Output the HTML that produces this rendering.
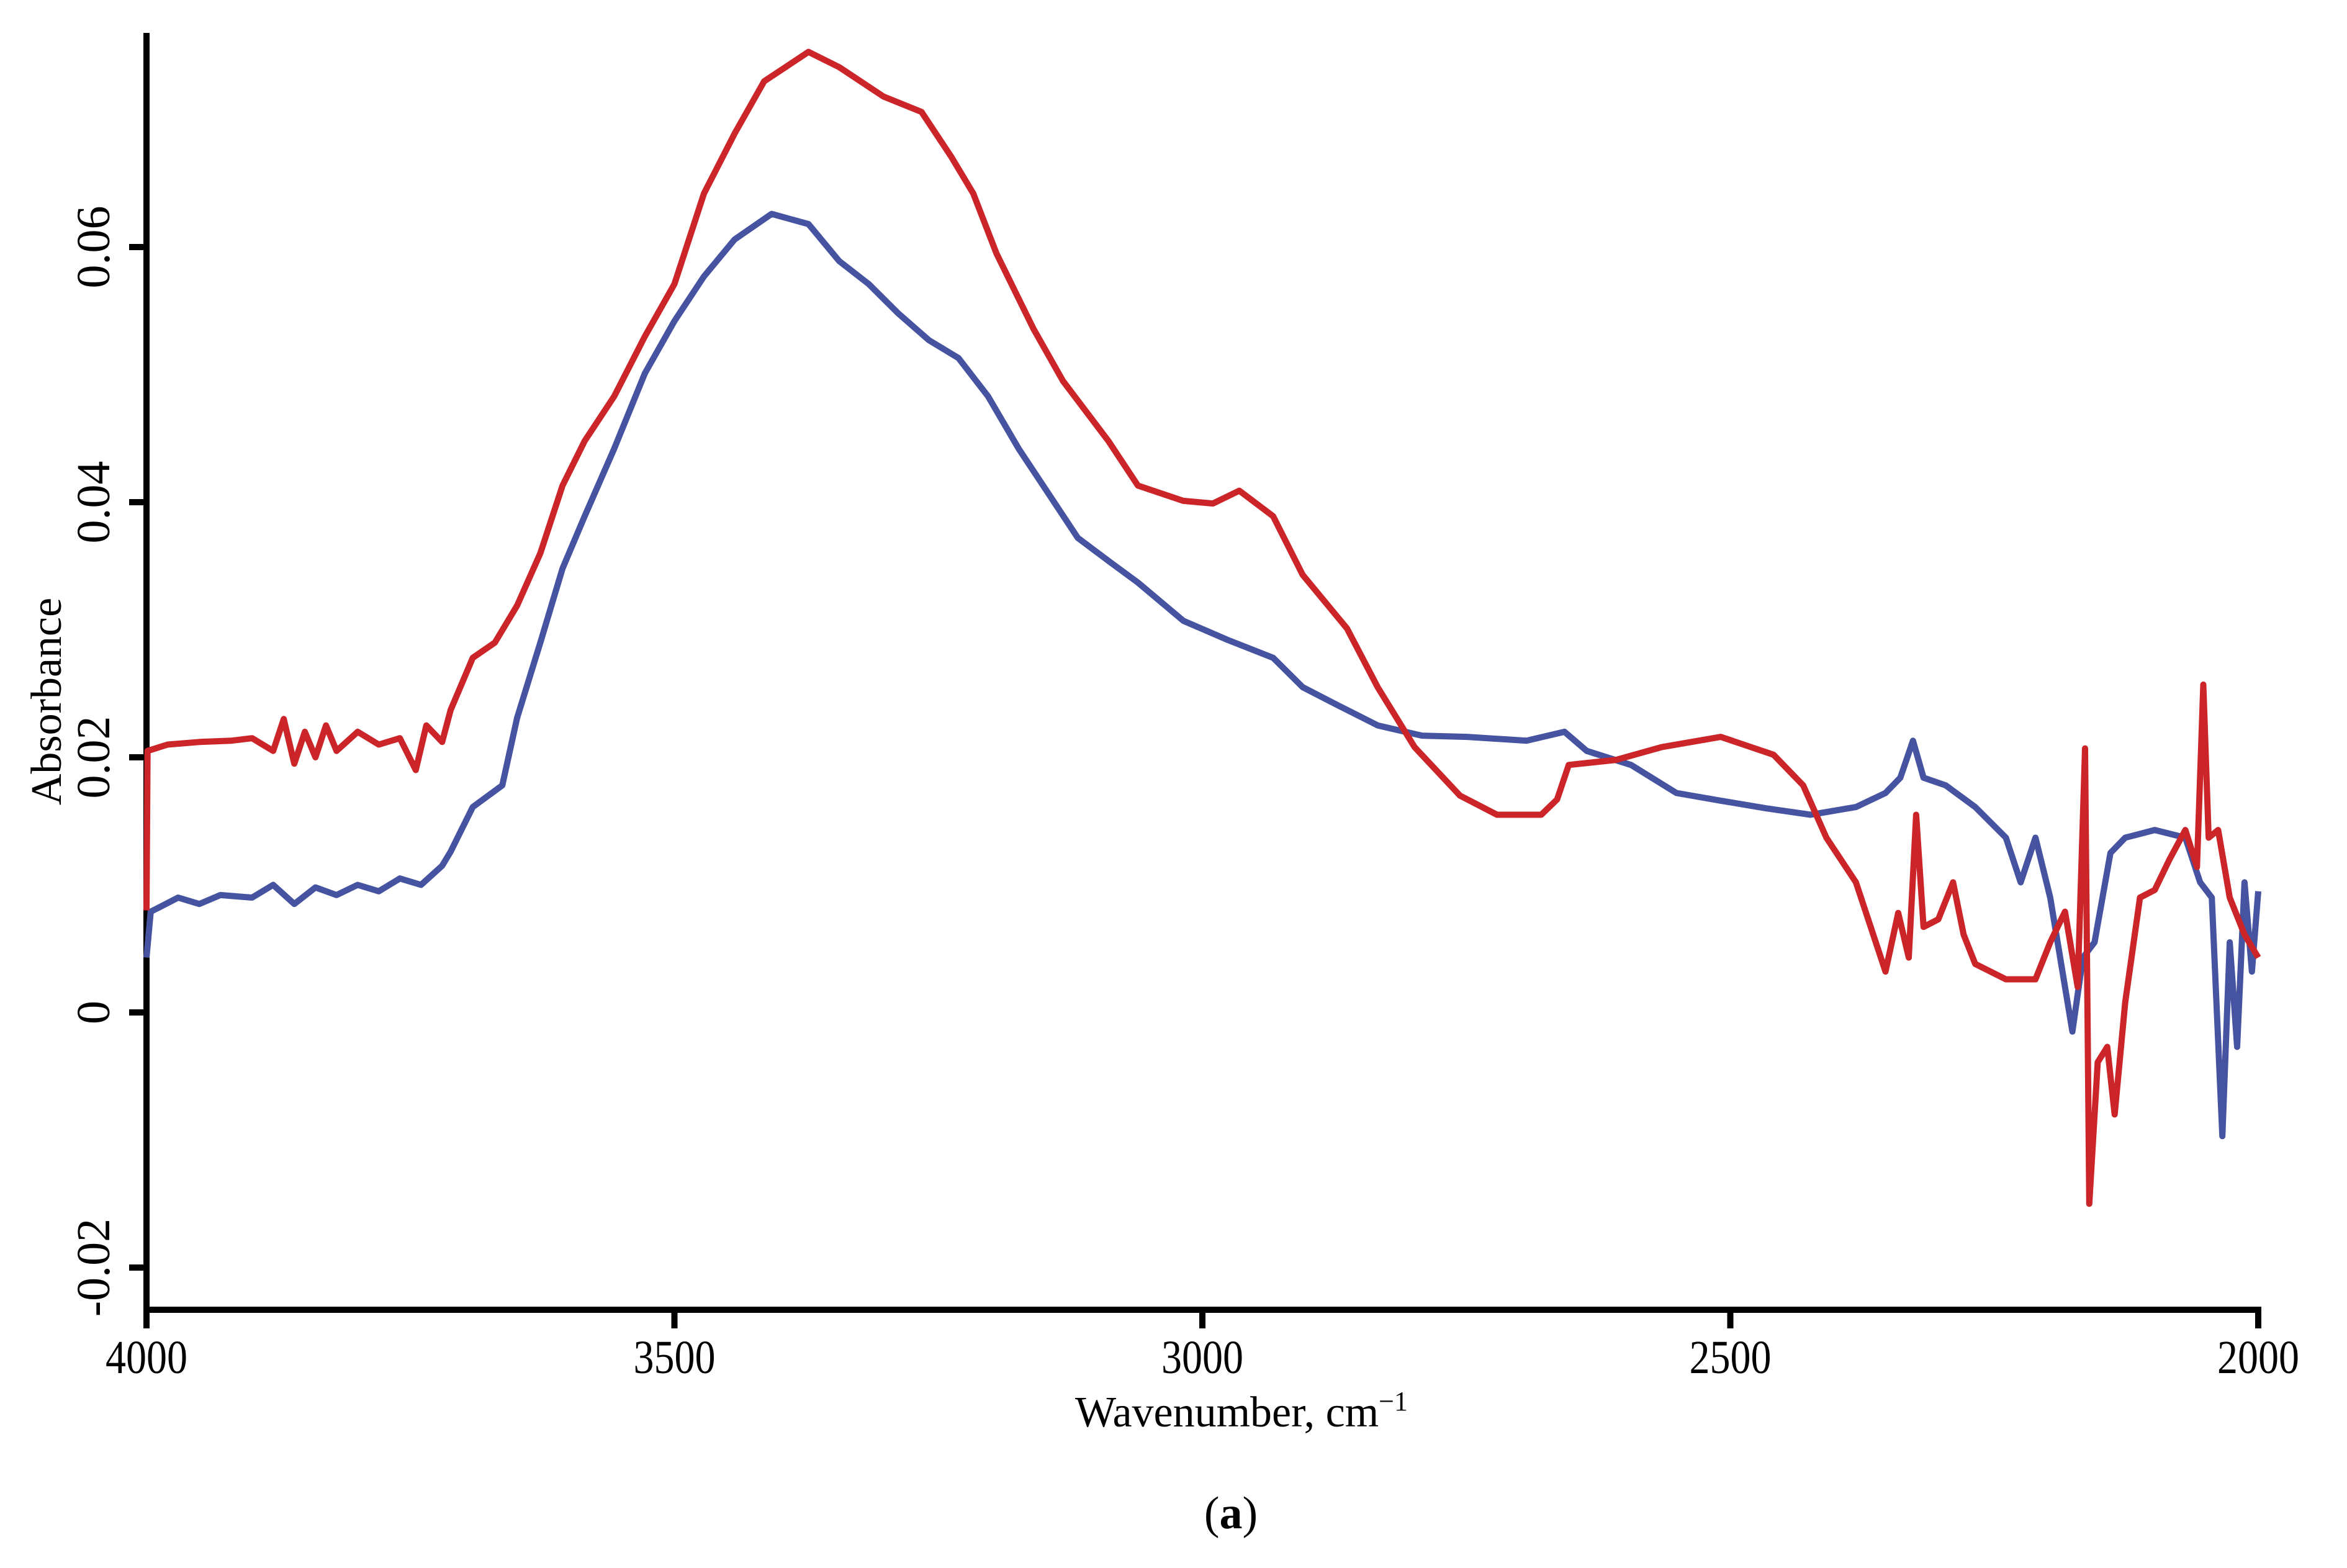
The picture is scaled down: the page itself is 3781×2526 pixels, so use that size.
<!DOCTYPE html>
<html><head><meta charset="utf-8"><style>
html,body{margin:0;padding:0;background:#fff}
svg{display:block}
text{font-family:"Liberation Serif",serif;fill:#000}
</style></head><body>
<svg id="chart" width="3781" height="2526" viewBox="0 0 3781 2526" xmlns="http://www.w3.org/2000/svg">
<g id="axes"></g>
<g id="series"></g>
<text x="0" y="0" font-size="70" text-anchor="middle" transform="translate(98,1130) rotate(-90)">Absorbance</text>
<text x="2000" y="2298" font-size="70" text-anchor="middle">Wavenumber, cm<tspan font-size="44" dy="-26">−1</tspan></text>
<text x="1983" y="2462" font-size="74" text-anchor="middle">(<tspan font-weight="bold">a</tspan>)</text>
</svg>
<script>
const xTicks=[4000,3500,3000,2500,2000];
const xTickLabels=["4000","3500","3000","2500","2000"];
const yTicks=[0.06,0.04,0.02,0,-0.02];
const yTickLabels=["0.06","0.04","0.02","0","-0.02"];
const redWn=[4000,3999,3980,3950,3920,3900,3880,3870,3860,3850,3840,3830,3820,3800,3780,3760,3745,3735,3720,3712,3691,3670,3649,3627,3606,3585,3557,3528,3500,3472,3443,3415,3373,3344,3302,3266,3238,3217,3195,3160,3132,3089,3061,3018,2990,2965,2933,2905,2863,2834,2799,2756,2721,2679,2664,2653,2608,2565,2509,2459,2431,2409,2381,2367,2353,2341,2331,2324,2317,2303,2289,2279,2268,2239,2211,2197,2183,2171,2164,2160,2152,2143,2136,2126,2112,2098,2084,2069,2058,2052,2047,2038,2027,2013,2000];
const redAbs=[0.008,0.0205,0.021,0.0212,0.0213,0.0215,0.0205,0.023,0.0195,0.022,0.02,0.0225,0.0205,0.022,0.021,0.0215,0.019,0.0225,0.0212,0.0237,0.0278,0.029,0.0319,0.036,0.0413,0.0448,0.0483,0.053,0.0571,0.0642,0.0689,0.073,0.0753,0.0741,0.0718,0.0706,0.0671,0.0642,0.0595,0.0536,0.0495,0.0448,0.0413,0.0401,0.0399,0.0409,0.0389,0.0343,0.0301,0.0255,0.0208,0.017,0.0155,0.0155,0.0167,0.0194,0.0198,0.0208,0.0216,0.0202,0.0178,0.0137,0.0102,0.0067,0.0032,0.0078,0.0043,0.0155,0.0067,0.0073,0.0102,0.0061,0.0038,0.0026,0.0026,0.0055,0.0079,0.002,0.0207,-0.015,-0.0039,-0.0027,-0.008,0.0008,0.009,0.0096,0.012,0.0143,0.0114,0.0257,0.0137,0.0143,0.009,0.0061,0.0043];
const blueWn=[4000,3996,3970,3950,3930,3900,3880,3860,3840,3820,3800,3780,3760,3740,3720,3712,3691,3663,3649,3627,3606,3585,3557,3528,3500,3472,3443,3408,3373,3344,3316,3288,3259,3231,3203,3174,3146,3118,3089,3061,3018,2976,2933,2905,2877,2834,2792,2749,2693,2657,2636,2594,2551,2509,2466,2424,2381,2353,2339,2327,2317,2296,2268,2239,2225,2211,2197,2183,2176,2166,2155,2140,2126,2098,2069,2055,2044,2034,2027,2020,2013,2006,2000];
const blueAbs=[0.0043,0.0079,0.009,0.0085,0.0092,0.009,0.01,0.0085,0.0098,0.0092,0.01,0.0095,0.0105,0.01,0.0115,0.0126,0.0161,0.0178,0.0231,0.029,0.0348,0.0389,0.0442,0.0501,0.0542,0.0577,0.0606,0.0626,0.0618,0.0589,0.0571,0.0548,0.0527,0.0513,0.0483,0.0442,0.0407,0.0372,0.0354,0.0337,0.0307,0.0292,0.0278,0.0255,0.0243,0.0225,0.0217,0.0216,0.0213,0.022,0.0205,0.0194,0.0172,0.0166,0.016,0.0155,0.0161,0.0172,0.0184,0.0213,0.0184,0.0178,0.0161,0.0137,0.0102,0.0137,0.009,0.002,-0.0015,0.0043,0.0055,0.0125,0.0137,0.0143,0.0137,0.0102,0.009,-0.0097,0.0055,-0.0027,0.0102,0.0032,0.0095];

const NS="http://www.w3.org/2000/svg";
const X0=236,X1=3638,Y0=1631,YSTEP=411,AXY=2110,AXTOP=53;
function xs(w){return X0+(4000-w)/2000*(X1-X0);}
function ys(v){return Y0-v/0.02*YSTEP;}
const axes=document.getElementById('axes');
const series=document.getElementById('series');
function mk(tag,attrs,parent){const e=document.createElementNS(NS,tag);for(const k in attrs)e.setAttribute(k,attrs[k]);parent.appendChild(e);return e;}

let a=mk('line',{x1:X0,y1:AXTOP,x2:X0,y2:AXY+4,stroke:'#000','stroke-width':10},axes);


a=mk('line',{x1:X0-5,y1:AXY,x2:X1+5,y2:AXY,stroke:'#000','stroke-width':10},axes);



xTicks.forEach((t,i)=>{
  const x=xs(t);
  const l=mk('line',{x1:x,y1:AXY,x2:x,y2:AXY+30,stroke:'#000','stroke-width':10},axes);
  
  
  const tx=mk('text',{x:x,y:2212,'font-size':76,'text-anchor':'middle',textLength:132,lengthAdjust:'spacingAndGlyphs'},axes);
  tx.textContent=xTickLabels[i];
  
  
});
yTicks.forEach((t,i)=>{
  const y=ys(t);
  const l=mk('line',{x1:X0-28,y1:y,x2:X0,y2:y,stroke:'#000','stroke-width':10},axes);
  
  
  const tx=mk('text',{x:0,y:0,'font-size':76,'text-anchor':'middle',transform:`translate(176,${y}) rotate(-90)`},axes);
  tx.textContent=yTickLabels[i];
  
  
});

function drawLine(wn,ab,color,name){
  const d=wn.map((w,i)=>(i?'L':'M')+xs(w).toFixed(1)+' '+ys(ab[i]).toFixed(1)).join(' ');
  const p=mk('path',{d:d,fill:'none',stroke:color,'stroke-width':10,'stroke-linejoin':'round'},series);
  
  
}
drawLine(blueWn,blueAbs,'#4553a0','blue-spectrum-line');
drawLine(redWn,redAbs,'#cc2529','red-spectrum-line');
</script>
</body></html>
